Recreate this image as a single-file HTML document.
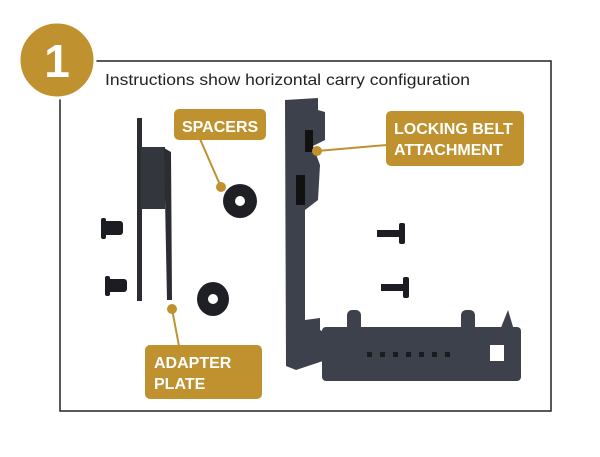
<!DOCTYPE html>
<html><head><style>
body{margin:0;width:600px;height:452px;background:#fff;overflow:hidden;font-family:"Liberation Sans",sans-serif}
</style></head><body>
<svg width="600" height="452" viewBox="0 0 600 452" xmlns="http://www.w3.org/2000/svg">
<rect x="60" y="61" width="491" height="350" fill="none" stroke="#222" stroke-width="1.5"/>
<circle cx="57" cy="60" r="38" fill="#bf922f" stroke="#fff" stroke-width="3"/>
<text x="57" y="77" font-size="46" font-weight="bold" fill="#fff" text-anchor="middle" font-family="Liberation Sans">1</text>
<text x="105" y="85" font-size="16" fill="#222" font-family="Liberation Sans" textLength="365" lengthAdjust="spacingAndGlyphs">Instructions show horizontal carry configuration</text>
<!-- adapter plate -->
<rect x="137" y="118" width="5" height="183" fill="#2b2d33"/>
<rect x="141" y="147" width="24" height="62" fill="#33363c"/>
<polygon points="164,148 171,152 172,300 167,300" fill="#2b2d33"/>
<!-- washers -->
<ellipse cx="240" cy="201" rx="17" ry="17" fill="#1f2025"/><circle cx="240" cy="201" r="5" fill="#fff"/>
<ellipse cx="213" cy="299" rx="16" ry="17" fill="#1f2025"/><circle cx="213" cy="299" r="5" fill="#fff"/>
<!-- screws -->
<g fill="#1c1d22">
<rect x="103" y="221" width="20" height="14" rx="3"/><rect x="101" y="218" width="5" height="21" rx="2"/>
<rect x="107" y="279" width="20" height="13" rx="3"/><rect x="105" y="276" width="5" height="20" rx="2"/>
<rect x="377" y="230" width="25" height="7"/><rect x="399" y="223" width="6" height="21" rx="2"/>
<rect x="381" y="284" width="25" height="7"/><rect x="403" y="277" width="6" height="21" rx="2"/>
</g>
<!-- holster -->
<g fill="#3d414b">
<polygon points="285,100 318,98 318,110 325,112 325,140 313,146 320,165 318,200 305,210 305,320 320,318 320,330 326,333 326,360 296,370 286,366"/>
<rect x="322" y="327" width="199" height="54" rx="4"/>
<rect x="347" y="310" width="14" height="22" rx="5"/>
<rect x="461" y="310" width="14" height="22" rx="5"/>
<polygon points="500,330 508,310 514,330"/>
</g>
<rect x="305" y="130" width="8" height="22" fill="#111"/>
<rect x="296" y="175" width="9" height="30" fill="#111"/>
<g fill="#1b1c20">
<rect x="367" y="352" width="5" height="5"/><rect x="380" y="352" width="5" height="5"/><rect x="393" y="352" width="5" height="5"/><rect x="406" y="352" width="5" height="5"/><rect x="419" y="352" width="5" height="5"/><rect x="432" y="352" width="5" height="5"/><rect x="445" y="352" width="5" height="5"/>
</g>
<rect x="490" y="345" width="14" height="16" fill="#fff"/>
<!-- connectors -->
<g stroke="#bf922f" stroke-width="2" fill="#bf922f">
<line x1="200" y1="139" x2="221" y2="187"/><circle cx="221" cy="187" r="4"/>
<line x1="387" y1="145" x2="317" y2="151"/><circle cx="317" cy="151" r="4"/>
<line x1="172" y1="309" x2="179" y2="346"/><circle cx="172" cy="309" r="4"/>
</g>
<!-- labels -->
<rect x="174" y="109" width="92" height="31" rx="5" fill="#bf922f"/>
<text x="182" y="132" font-size="16" font-weight="bold" fill="#fff" font-family="Liberation Sans">SPACERS</text>
<rect x="386" y="111" width="138" height="55" rx="5" fill="#bf922f"/>
<text x="394" y="134" font-size="16" font-weight="bold" fill="#fff" font-family="Liberation Sans">LOCKING BELT</text>
<text x="394" y="155" font-size="16" font-weight="bold" fill="#fff" font-family="Liberation Sans">ATTACHMENT</text>
<rect x="145" y="345" width="117" height="54" rx="5" fill="#bf922f"/>
<text x="154" y="368" font-size="16" font-weight="bold" fill="#fff" font-family="Liberation Sans">ADAPTER</text>
<text x="154" y="389" font-size="16" font-weight="bold" fill="#fff" font-family="Liberation Sans">PLATE</text>
</svg>
</body></html>
